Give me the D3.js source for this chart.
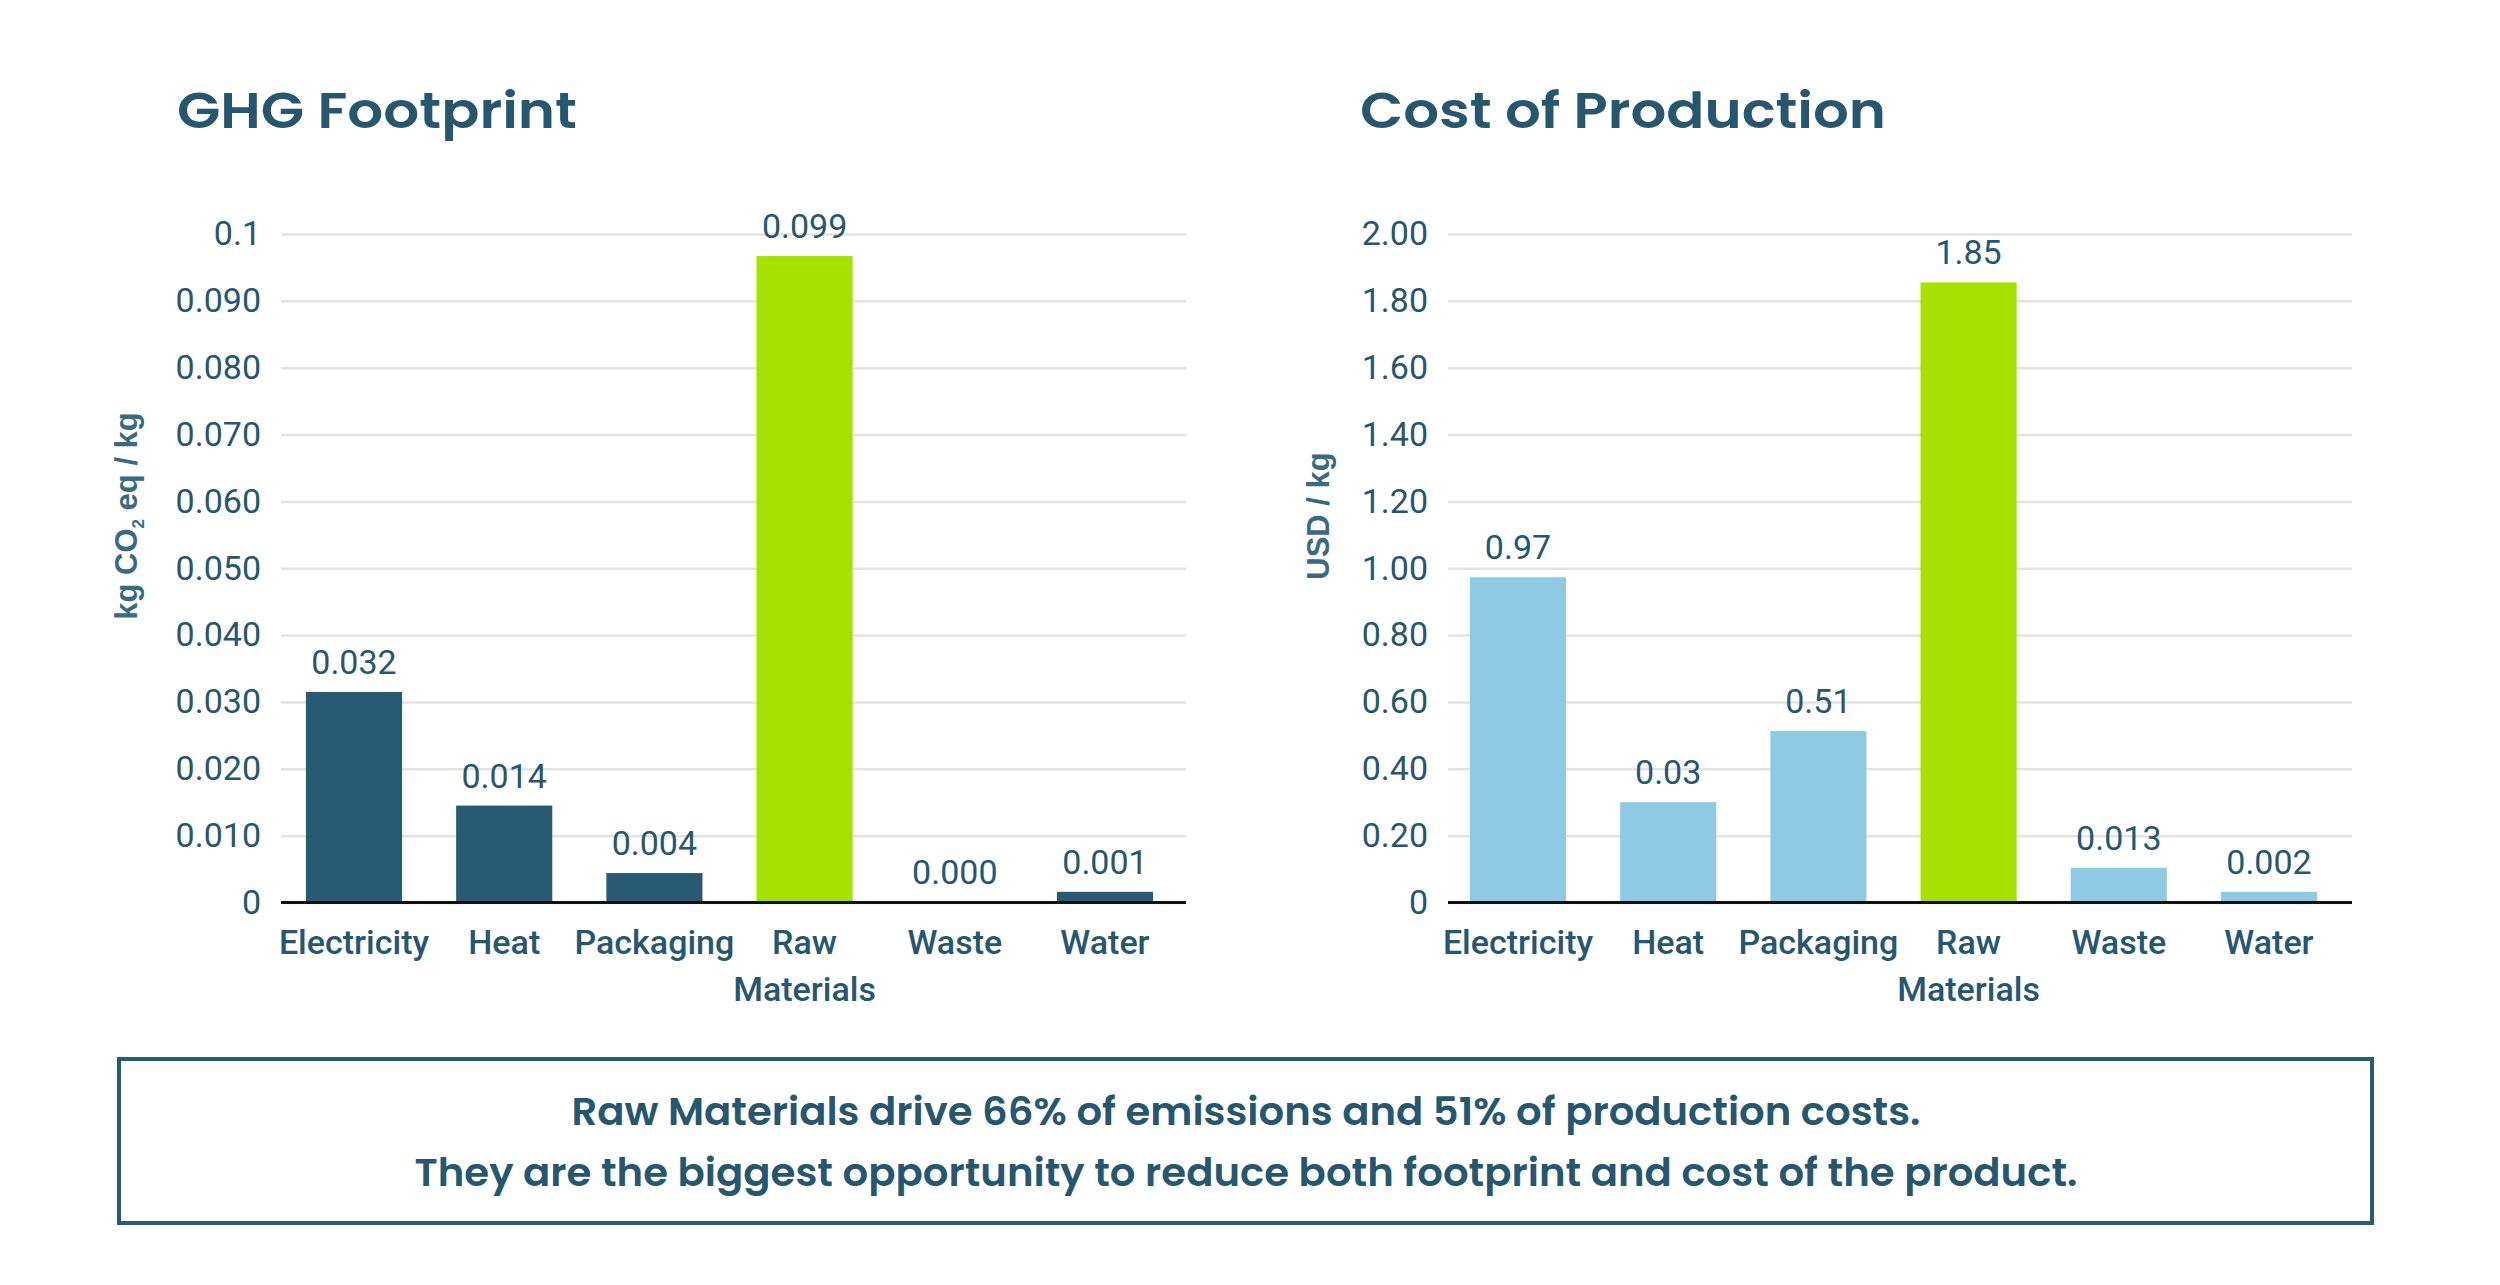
<!DOCTYPE html>
<html>
<head>
<meta charset="utf-8">
<script src="https://cdn.jsdelivr.net/npm/d3@7"></script>
<style>
  html, body { margin: 0; padding: 0; background: #ffffff; }
  svg { display: block; }
</style>
</head>
<body>
<div id="chart"></div>
<script>
// categories shared by both panels
var categories = ["Electricity", "Heat", "Packaging", "Raw Materials", "Waste", "Water"];
var highlight = "Raw Materials";

// GHG footprint (kg CO2 eq / kg)
var ghgValues = [0.0315, 0.0145, 0.0044, 0.0967, 0.0001, 0.0016];
var ghgLabels = ["0.032", "0.014", "0.004", "0.099", "0.000", "0.001"];
var ghgTicks = [0, 0.01, 0.02, 0.03, 0.04, 0.05, 0.06, 0.07, 0.08, 0.09, 0.1];
var ghgTickLabels = ["0", "0.010", "0.020", "0.030", "0.040", "0.050", "0.060", "0.070", "0.080", "0.090", "0.1"];

// cost of production (USD / kg)
var costValues = [0.973, 0.30, 0.513, 1.855, 0.104, 0.032];
var costLabels = ["0.97", "0.03", "0.51", "1.85", "0.013", "0.002"];
var costTicks = [0, 0.2, 0.4, 0.6, 0.8, 1.0, 1.2, 1.4, 1.6, 1.8, 2.0];
var costTickLabels = ["0", "0.20", "0.40", "0.60", "0.80", "1.00", "1.20", "1.40", "1.60", "1.80", "2.00"];

var summaryLines = [
  "Raw Materials drive 66% of emissions and 51% of production costs.",
  "They are the biggest opportunity to reduce both footprint and cost of the product."
];

var W = 2500, H = 1285;
var textColor = "#27566f";
var axisTitleColor = "#3a6a82";
var green = "#a7e100";
var headFont = "'Poppins', 'Open Sans', sans-serif";
var numFont = "Roboto, sans-serif";

var svg = d3.select("#chart").append("svg")
    .attr("width", W)
    .attr("height", H);

var plotTop = 234, plotBottom = 902.5;

function drawPanel(opts) {
    var g = svg.append("g");

    // bars sit slightly left of the grid's centre, so the band range is its own
    var x = d3.scaleBand()
        .domain(categories)
        .range(opts.bandRange)
        .paddingInner(0.36)
        .paddingOuter(opts.outer);

    var y = d3.scaleLinear()
        .domain([0, opts.max])
        .range([plotBottom, plotTop]);

    // title
    g.append("text")
        .attr("x", opts.titleX)
        .attr("y", 128)
        .attr("font-family", headFont)
        .attr("font-weight", 600)
        .attr("font-size", 50)
        .attr("fill", textColor)
        .attr("textLength", opts.titleWidth)
        .attr("lengthAdjust", "spacingAndGlyphs")
        .text(opts.title);

    // y axis with grid
    var yAxis = g.append("g")
        .attr("transform", "translate(" + opts.left + ",0)")
        .call(d3.axisLeft(y)
            .tickValues(opts.ticks)
            .tickFormat(function(d, i) { return opts.tickLabels[i]; })
            .tickSize(-(opts.right - opts.left))
            .tickPadding(20));
    yAxis.select(".domain").remove();
    yAxis.selectAll(".tick line")
        .attr("stroke", "#e3e3e3")
        .attr("stroke-width", 2.5);
    yAxis.selectAll(".tick text")
        .attr("font-family", numFont)
        .attr("font-size", 34)
        .attr("fill", textColor);

    // y axis title
    var yt = g.append("text")
        .attr("transform", "translate(" + opts.yTitleX + ",516) rotate(-90)")
        .attr("text-anchor", "middle")
        .attr("font-family", "'Liberation Sans', Arial, sans-serif")
        .attr("font-weight", 700)
        .attr("font-size", 31)
        .attr("fill", axisTitleColor);
    opts.yTitle.forEach(function(part) {
        var t = yt.append("tspan").text(part.text);
        if (part.sub) {
            t.attr("font-size", 17).attr("dy", 7);
        } else if (part.after) {
            t.attr("dy", -7);
        }
    });

    // bars
    g.selectAll("rect.bar")
        .data(opts.values)
        .enter()
        .append("rect")
        .attr("class", "bar")
        .attr("x", function(d, i) { return x(categories[i]); })
        .attr("y", function(d) { return y(d); })
        .attr("width", x.bandwidth())
        .attr("height", function(d) { return y(0) - y(d); })
        .attr("fill", function(d, i) { return categories[i] === highlight ? green : opts.color; });

    // value labels
    g.selectAll("text.val")
        .data(opts.values)
        .enter()
        .append("text")
        .attr("class", "val")
        .attr("x", function(d, i) { return x(categories[i]) + x.bandwidth() / 2; })
        .attr("y", function(d) { return y(d) - 18; })
        .attr("text-anchor", "middle")
        .attr("font-family", numFont)
        .attr("font-size", 34)
        .attr("fill", textColor)
        .text(function(d, i) { return opts.labels[i]; });

    // x axis: labels from the band scale, baseline drawn across the full grid
    var xAxis = g.append("g")
        .attr("transform", "translate(0," + plotBottom + ")")
        .call(d3.axisBottom(x).tickSize(0).tickSizeOuter(0));
    xAxis.select(".domain").remove();
    xAxis.append("line")
        .attr("x1", opts.left)
        .attr("x2", opts.right)
        .attr("stroke", "#111111")
        .attr("stroke-width", 3);
    xAxis.selectAll(".tick text")
        .attr("font-family", numFont)
        .attr("font-weight", 500)
        .attr("font-size", 34)
        .attr("fill", textColor)
        .attr("y", 51)
        .attr("dy", null)
        .each(function(d) {
            var words = d.split(" ");
            if (words.length < 2) return;
            var el = d3.select(this).text(null);
            words.forEach(function(w, i) {
                el.append("tspan")
                    .attr("x", 0)
                    .attr("dy", i === 0 ? 0 : 47)
                    .text(w);
            });
        });
}

drawPanel({
    left: 281, right: 1186,
    bandRange: [281, 1178], outer: 0.166,
    max: 0.1,
    values: ghgValues, labels: ghgLabels,
    ticks: ghgTicks, tickLabels: ghgTickLabels,
    color: "#285a73",
    title: "GHG Footprint", titleX: 177, titleWidth: 400,
    yTitleX: 137,
    yTitle: [{text: "kg CO"}, {text: "2", sub: true}, {text: " eq / kg", after: true}]
});

drawPanel({
    left: 1448, right: 2352,
    bandRange: [1448, 2339], outer: 0.146,
    max: 2,
    values: costValues, labels: costLabels,
    ticks: costTicks, tickLabels: costTickLabels,
    color: "#8ecae3",
    title: "Cost of Production", titleX: 1360, titleWidth: 526,
    yTitleX: 1329,
    yTitle: [{text: "USD / kg"}]
});

// summary box
var box = svg.append("g");
box.append("rect")
    .attr("x", 119)
    .attr("y", 1059)
    .attr("width", 2253)
    .attr("height", 164)
    .attr("fill", "none")
    .attr("stroke", "#2a5a74")
    .attr("stroke-width", 4);

var lineWidths = [1349, 1663];
box.selectAll("text")
    .data(summaryLines)
    .enter()
    .append("text")
    .attr("x", 1246)
    .attr("y", function(d, i) { return 1125 + i * 61; })
    .attr("text-anchor", "middle")
    .attr("font-family", headFont)
    .attr("font-weight", 600)
    .attr("font-size", 38)
    .attr("fill", textColor)
    .attr("textLength", function(d, i) { return lineWidths[i]; })
    .attr("lengthAdjust", "spacingAndGlyphs")
    .text(function(d) { return d; });
</script>
</body>
</html>
